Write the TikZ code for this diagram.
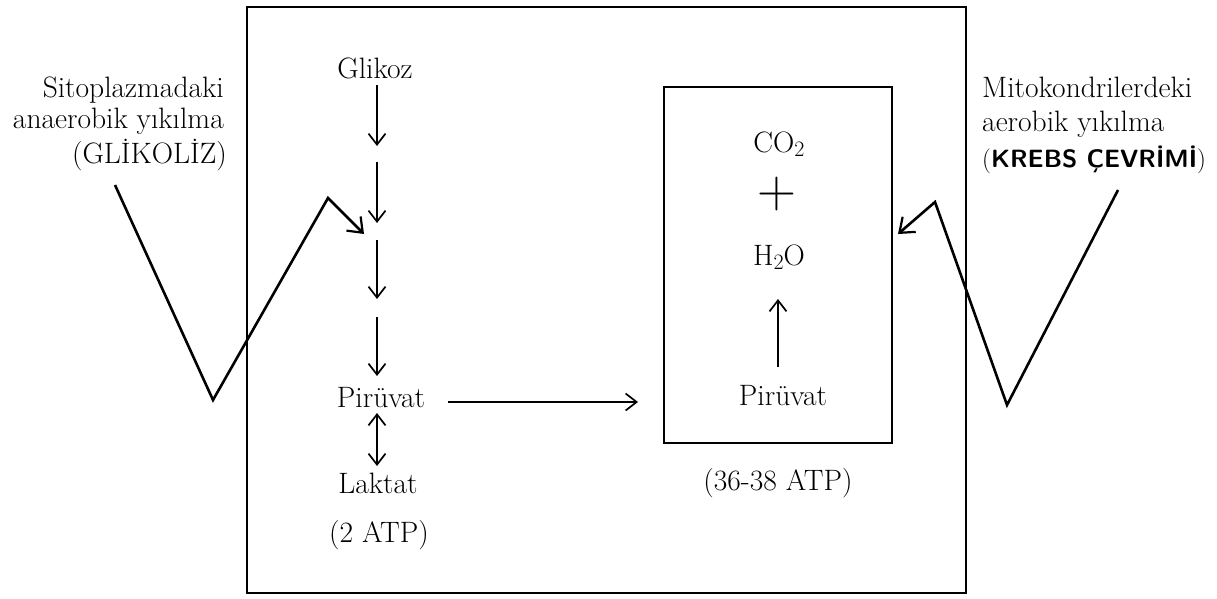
\documentclass[tikz,border=0pt]{standalone}
\usepackage{fontspec}
\usetikzlibrary{arrows.meta}
\newcommand{\subtwo}{\raisebox{-0.35ex}{\fontsize{22}{22}\selectfont 2}}
\begin{document}
\begin{tikzpicture}[x=1pt,y=-1pt,
  font=\fontsize{29.5}{33}\selectfont,
  txt/.style={inner sep=0pt, anchor=base},
  arr/.style={line width=1.7pt,-{Straight Barb[length=11pt,width=17pt,line width=1.7pt]}},
  dblarr/.style={line width=1.7pt,{Straight Barb[length=11pt,width=17pt,line width=1.7pt]}-{Straight Barb[length=11pt,width=17pt,line width=1.7pt]}},
  frame/.style={line width=2.6pt},
  zig/.style={line width=2.6pt,line join=miter,-{Straight Barb[length=13pt,width=20pt,line width=2.2pt]}}]
\useasboundingbox (0,0) rectangle (1217,598);
% frames
\draw[frame] (247,7) rectangle (966,593);
\draw[frame] (664,87) rectangle (892,443);
% left column
\node[txt] (glikoz) at (375,78) {Glikoz};
\coordinate (a1) at (377,85);  \coordinate (b1) at (377,146);
\coordinate (a2) at (377,162); \coordinate (b2) at (377,223);
\coordinate (a3) at (377,240); \coordinate (b3) at (377,299);
\coordinate (a4) at (377,317); \coordinate (b4) at (377,376);
\draw[arr] (a1) -- (b1);
\draw[arr] (a2) -- (b2);
\draw[arr] (a3) -- (b3);
\draw[arr] (a4) -- (b4);
\node[txt] (piruvatL) at (381,407) {Pirüvat};
\coordinate (d1) at (377,413); \coordinate (d2) at (377,466);
\draw[dblarr] (d1) -- (d2);
\node[txt] (laktat) at (378,493) {Laktat};
\node[txt] (atpL) at (379,542) {(2 ATP)};
% horizontal arrow
\coordinate (h1) at (448,402); \coordinate (h2) at (638,402);
\draw[arr] (h1) -- (h2);
% inner box contents
\node[txt] (co2) at (779,152) {CO\subtwo};
\node[inner sep=0pt] (plus) at (777,194) {\fontsize{54}{54}\selectfont +};
\node[txt] (h2o) at (779,265) {H\subtwo O};
\coordinate (u1) at (778,367); \coordinate (u2) at (778,299);
\draw[arr] (u1) -- (u2);
\node[txt] (piruvatR) at (783,405) {Pirüvat};
\node[txt] (atpR) at (778,490) {(36-38 ATP)};
% left label
\node[inner sep=0pt, anchor=base east] (sl1) at (224,97) {Sitoplazmadaki};
\node[inner sep=0pt, anchor=base east] (sl2) at (224,128) {anaerobik yıkılma};
\node[inner sep=0pt, anchor=base east] (sl3) at (227,163) {(GLİKOLİZ)};
% right label
\node[inner sep=0pt, anchor=base west] (sr1) at (982,97) {Mitokondrilerdeki};
\node[inner sep=0pt, anchor=base west] (sr2) at (982,131) {aerobik yıkılma};
\node[inner sep=0pt, anchor=base west] (sr3) at (982,167) {\fontsize{25}{30}\selectfont(\textsf{\bfseries KREBS ÇEVRİMİ})};
% zigzag arrows
\coordinate (zl1) at (115,185); \coordinate (zl2) at (213,400);
\coordinate (zl3) at (328,198); \coordinate (zl4) at (364,234);
\draw[zig] (zl1) -- (zl2) -- (zl3) -- (zl4);
\coordinate (zr1) at (1118,190); \coordinate (zr2) at (1007,405);
\coordinate (zr3) at (935,202); \coordinate (zr4) at (898,234);
\draw[zig] (zr1) -- (zr2) -- (zr3) -- (zr4);
\end{tikzpicture}
\end{document}
